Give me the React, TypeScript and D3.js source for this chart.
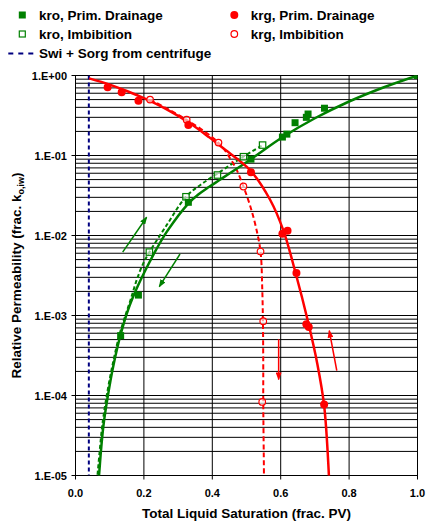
import React from 'react';
import * as d3 from 'd3';

const W = 427;
const H = 527;
const plot = { left: 75.5, right: 417.5, top: 75.5, bottom: 475.5 };

const FONT = 'Liberation Sans, Arial, Helvetica, sans-serif';
const GREEN = '#008000';
const RED = '#FF0000';
const NAVY = '#000080';

// Axis ticks
const xTicks = [0, 0.2, 0.4, 0.6, 0.8, 1.0];
const xTickLabels = ['0.0', '0.2', '0.4', '0.6', '0.8', '1.0'];
const yTicks = [1, 0.1, 0.01, 0.001, 1e-4, 1e-5];
const yTickLabels = ['1.E+00', '1.E-01', '1.E-02', '1.E-03', '1.E-04', '1.E-05'];

// Measured points: [total liquid saturation, relative permeability]
const kroDrainage: [number, number][] = [
  [0.132, 0.00056], [0.184, 0.0018], [0.33, 0.026], [0.513, 0.09],
  [0.605, 0.17], [0.618, 0.185], [0.642, 0.257], [0.675, 0.30],
  [0.68, 0.33], [0.728, 0.39], [1.0, 1.0],
];
const kroImbibition: [number, number][] = [
  [0.216, 0.0062], [0.323, 0.0305], [0.415, 0.057], [0.491, 0.0966], [0.547, 0.135],
];
const krgDrainage: [number, number][] = [
  [0.094, 0.712], [0.135, 0.617], [0.184, 0.484], [0.33, 0.24], [0.513, 0.0616],
  [0.605, 0.0105], [0.62, 0.0115], [0.646, 0.0034], [0.675, 0.00078],
  [0.682, 0.00072], [0.727, 7.7e-5],
];
const krgImbibition: [number, number][] = [
  [0.218, 0.5], [0.325, 0.28], [0.418, 0.145], [0.491, 0.041],
  [0.541, 0.0063], [0.549, 0.00085], [0.546, 8.3e-5],
];

// Fitted curves
const kroDrainageFit: [number, number][] = [
  [0.0667, 8.5e-6], [0.0687, 1e-5], [0.0746, 2.08e-5], [0.0819, 4.28e-5], [0.095, 1.01e-4],
  [0.1111, 2.4e-4], [0.1316, 5.7e-4], [0.1535, 1.17e-3], [0.1769, 2.08e-3], [0.2047, 3.7e-3],
  [0.2354, 6.6e-3], [0.2667, 1.11e-2], [0.3298, 2.51e-2], [0.36, 3.27e-2], [0.39, 4.03e-2],
  [0.42, 4.9e-2], [0.45, 5.96e-2], [0.513, 9.0e-2], [0.606, 0.17], [0.70, 0.292],
  [0.80, 0.473], [0.90, 0.708], [1.0, 1.0],
];
const kroImbibitionFit: [number, number][] = [
  [0.0629, 8.5e-6], [0.0643, 1.01e-5], [0.0702, 1.9e-5], [0.0784, 4.28e-5], [0.0915, 1.01e-4],
  [0.1082, 2.4e-4], [0.1284, 5.7e-4], [0.1462, 1.01e-3], [0.1608, 1.56e-3], [0.179, 2.78e-3],
  [0.1982, 4.49e-3], [0.2158, 6.17e-3], [0.2667, 1.35e-2], [0.3231, 3.05e-2], [0.367, 4.34e-2],
  [0.4196, 6.13e-2], [0.4906, 9.66e-2], [0.5474, 0.135],
];
const krgDrainageFit: [number, number][] = [
  [0.04, 0.92], [0.10, 0.77], [0.15, 0.64], [0.20, 0.52], [0.26, 0.39], [0.33, 0.26],
  [0.39, 0.17], [0.432, 0.123], [0.51, 0.066], [0.569, 0.028], [0.608, 0.0115],
  [0.642, 0.0036], [0.681, 0.0008], [0.707, 0.00025], [0.727, 7.5e-5], [0.74, 1.2e-5],
  [0.745, 3e-6],
];
const krgImbibitionFit: [number, number][] = [
  [0.218, 0.5], [0.325, 0.28], [0.418, 0.145], [0.45, 0.095], [0.47, 0.068],
  [0.491, 0.041], [0.51, 0.024], [0.527, 0.013], [0.541, 0.0063], [0.546, 0.0022],
  [0.548, 0.00085], [0.549, 2.5e-4], [0.549, 8.3e-5], [0.551, 1e-5], [0.551, 5e-6],
];

// Swi + Sorg from centrifuge
const centrifugeSat = 0.039;

// Direction arrows: [from, to]
const greenArrows: [number, number][][] = [
  [[0.138, 0.0062], [0.208, 0.0169]],
  [[0.3056, 0.00587], [0.245, 0.0023]],
];
const redArrows: [number, number][][] = [
  [[0.594, 5.04e-4], [0.594, 1.59e-4]],
  [[0.764, 2.04e-4], [0.742, 6.46e-4]],
];

const x = d3.scaleLinear().domain([0, 1]).range([plot.left, plot.right]);
const y = d3.scaleLog().domain([1e-5, 1]).range([plot.bottom, plot.top]);

const curve = d3
  .line<[number, number]>()
  .x((d) => x(d[0]))
  .y((d) => y(d[1]))
  .curve(d3.curveCatmullRom.alpha(0.5));

const minorY: number[] = [];
for (let e = -5; e < 0; e++) {
  for (let m = 2; m <= 9; m++) minorY.push(m * Math.pow(10, e));
}

const legendRows = [
  { col: 0, row: 0, label: 'kro, Prim. Drainage', kind: 'sqFill' },
  { col: 0, row: 1, label: 'kro, Imbibition', kind: 'sqOpen' },
  { col: 0, row: 2, label: 'Swi + Sorg from centrifuge', kind: 'dash' },
  { col: 1, row: 0, label: 'krg, Prim. Drainage', kind: 'cirFill' },
  { col: 1, row: 1, label: 'krg, Imbibition', kind: 'cirOpen' },
];

function Legend() {
  const colX = [22.3, 234.3];
  const textX = [39, 250.7];
  const rowY = [15, 34, 53.5];
  return (
    <g>
      {legendRows.map((r, i) => {
        const cx = colX[r.col];
        const cy = rowY[r.row];
        let sym: React.ReactNode = null;
        if (r.kind === 'sqFill') sym = <rect x={cx - 3.5} y={cy - 3.5} width={7} height={7} fill={GREEN} />;
        if (r.kind === 'sqOpen') sym = <rect x={cx - 3} y={cy - 3} width={6} height={6} fill="white" stroke={GREEN} strokeWidth={1.2} />;
        if (r.kind === 'cirFill') sym = <circle cx={cx} cy={cy} r={4} fill={RED} />;
        if (r.kind === 'cirOpen') sym = <circle cx={cx} cy={cy} r={3.3} fill="white" stroke={RED} strokeWidth={1.2} />;
        if (r.kind === 'dash')
          sym = <line x1={8.3} x2={33.5} y1={cy} y2={cy} stroke={NAVY} strokeWidth={2} strokeDasharray="5,5" />;
        return (
          <g key={i}>
            {sym}
            <text x={textX[r.col]} y={cy + 4.5} fontFamily={FONT} fontWeight={700} fontSize={13.5} fill="#000">
              {r.label}
            </text>
          </g>
        );
      })}
    </g>
  );
}

function Arrow({ pts, color, id }: { pts: [number, number][]; color: string; id: string }) {
  return (
    <line
      x1={x(pts[0][0])}
      y1={y(pts[0][1])}
      x2={x(pts[1][0])}
      y2={y(pts[1][1])}
      stroke={color}
      strokeWidth={1.5}
      markerEnd={`url(#${id})`}
    />
  );
}

export default function App() {
  return (
    <svg width={W} height={H} style={{ position: 'absolute', left: 0, top: 0, background: 'white' }}>
      <defs>
        <clipPath id="plotClip">
          <rect x={plot.left} y={plot.top} width={plot.right - plot.left} height={plot.bottom - plot.top} />
        </clipPath>
        <marker id="arrG" viewBox="0 0 8 6" refX={7} refY={3} markerWidth={8} markerHeight={6} markerUnits="userSpaceOnUse" orient="auto">
          <path d="M0,0 L8,3 L0,6 z" fill={GREEN} />
        </marker>
        <marker id="arrR" viewBox="0 0 8 6" refX={7} refY={3} markerWidth={8} markerHeight={6} markerUnits="userSpaceOnUse" orient="auto">
          <path d="M0,0 L8,3 L0,6 z" fill={RED} />
        </marker>
      </defs>
      <rect x={0} y={0} width={W} height={H} fill="white" />

      <Legend />

      {/* grid */}
      <g stroke="#000" strokeWidth={1}>
        {minorY.map((v, i) => (
          <line key={'m' + i} x1={plot.left} x2={plot.right} y1={y(v)} y2={y(v)} />
        ))}
        {yTicks.map((v, i) => (
          <line key={'M' + i} x1={plot.left - 4} x2={plot.right} y1={y(v)} y2={y(v)} />
        ))}
        {xTicks.map((v, i) => (
          <line key={'v' + i} x1={x(v)} x2={x(v)} y1={plot.top} y2={plot.bottom + 4} />
        ))}
      </g>
      <rect
        x={plot.left}
        y={plot.top}
        width={plot.right - plot.left}
        height={plot.bottom - plot.top}
        fill="none"
        stroke="#000"
        strokeWidth={1}
      />

      {/* tick labels */}
      {yTicks.map((v, i) => (
        <text key={'yl' + i} x={67} y={y(v) + 4} textAnchor="end" fontFamily={FONT} fontWeight={700} fontSize={11}>
          {yTickLabels[i]}
        </text>
      ))}
      {xTicks.map((v, i) => (
        <text key={'xl' + i} x={x(v)} y={497} textAnchor="middle" fontFamily={FONT} fontWeight={700} fontSize={11}>
          {xTickLabels[i]}
        </text>
      ))}

      {/* axis titles */}
      <text x={246.5} y={518} textAnchor="middle" fontFamily={FONT} fontWeight={700} fontSize={13.5}>
        Total Liquid Saturation (frac. PV)
      </text>
      <text
        transform={`translate(21, ${(plot.top + plot.bottom) / 2}) rotate(-90)`}
        textAnchor="middle"
        fontFamily={FONT}
        fontWeight={700}
        fontSize={13.5}
      >
        Relative Permeability (frac. k
        <tspan fontSize={9} dy={3}>o,iw</tspan>
        <tspan dy={-3}>)</tspan>
      </text>

      <g clipPath="url(#plotClip)">
        {/* centrifuge end point */}
        <line
          x1={x(centrifugeSat)}
          x2={x(centrifugeSat)}
          y1={y(1)}
          y2={y(1e-5)}
          stroke={NAVY}
          strokeWidth={2}
          strokeDasharray="4,3"
        />
        {/* fitted curves */}
        <path d={curve(kroImbibitionFit) || ''} fill="none" stroke={GREEN} strokeWidth={2} strokeDasharray="4,2.5" />
        <path d={curve(krgImbibitionFit) || ''} fill="none" stroke={RED} strokeWidth={2} strokeDasharray="5,3" />
        <path d={curve(kroDrainageFit) || ''} fill="none" stroke={GREEN} strokeWidth={2.5} />
        <path d={curve(krgDrainageFit) || ''} fill="none" stroke={RED} strokeWidth={2.5} />

        {/* measured points */}
        {kroImbibition.map((d, i) => (
          <rect key={'ki' + i} x={x(d[0]) - 3.2} y={y(d[1]) - 3.2} width={6.4} height={6.4} fill="white" fillOpacity={0.6} stroke={GREEN} strokeWidth={1.2} />
        ))}
        {kroDrainage.map((d, i) => (
          <rect key={'kd' + i} x={x(d[0]) - 3.5} y={y(d[1]) - 3.5} width={7} height={7} fill={GREEN} />
        ))}
        {krgImbibition.map((d, i) => (
          <circle key={'gi' + i} cx={x(d[0])} cy={y(d[1])} r={3.3} fill="white" fillOpacity={0.6} stroke={RED} strokeWidth={1.2} />
        ))}
        {krgDrainage.map((d, i) => (
          <circle key={'gd' + i} cx={x(d[0])} cy={y(d[1])} r={4} fill={RED} />
        ))}

        {greenArrows.map((a, i) => (
          <Arrow key={'ga' + i} pts={a} color={GREEN} id="arrG" />
        ))}
        {redArrows.map((a, i) => (
          <Arrow key={'ra' + i} pts={a} color={RED} id="arrR" />
        ))}
      </g>
    </svg>
  );
}
